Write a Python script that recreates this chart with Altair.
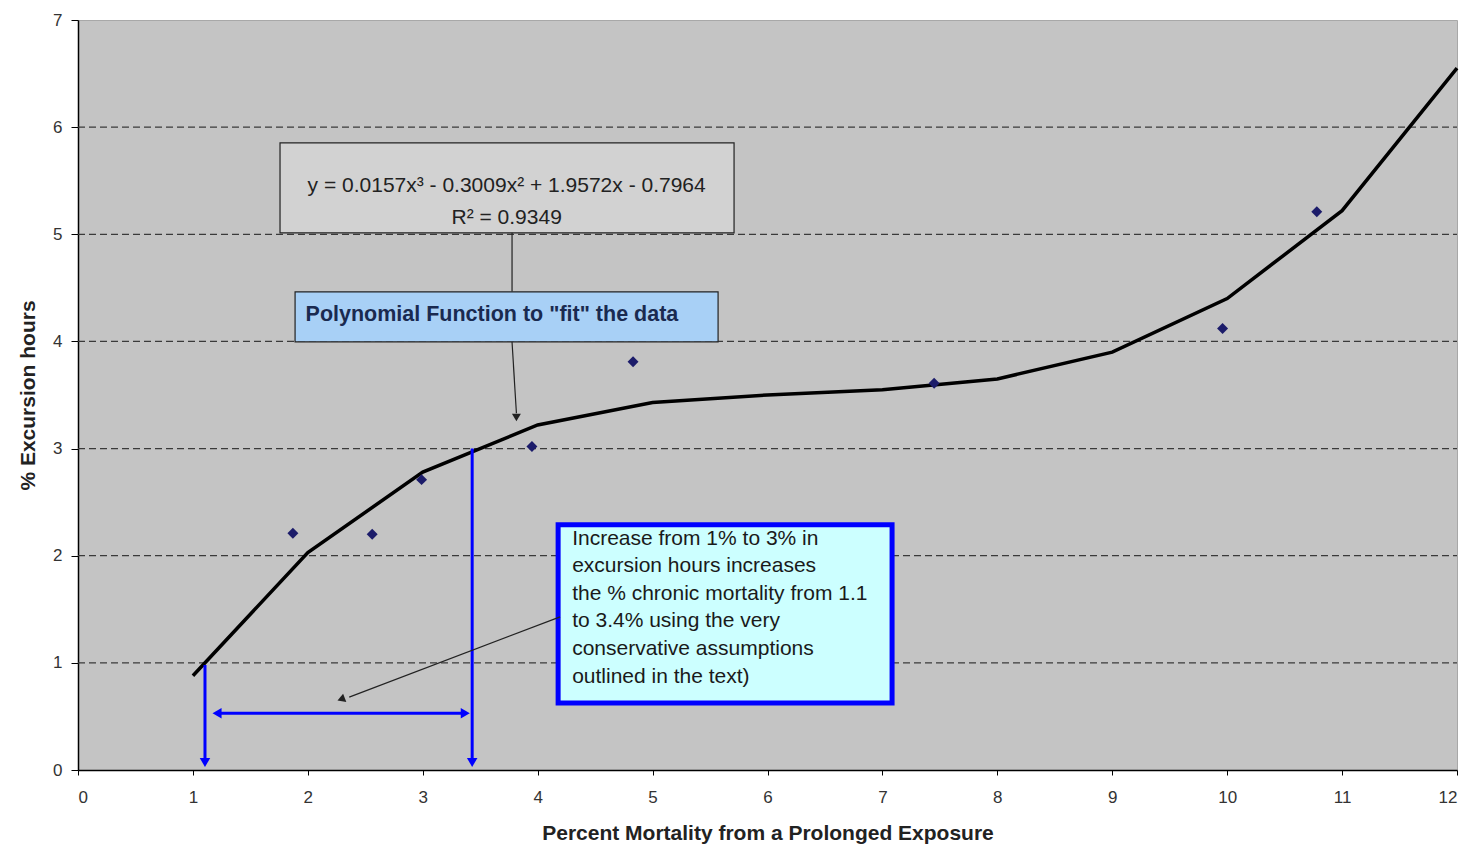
import altair as alt
import pandas as pd

pt_x = [1.87, 2.56, 2.99, 3.95, 4.83, 7.45, 9.96, 10.78]
pt_y = [2.21, 2.2, 2.71, 3.02, 3.81, 3.61, 4.12, 5.21]

# Fitted trend curve as drawn
fit_x = [1, 2, 3, 4, 5, 6, 7, 8, 9, 10, 11, 12]
fit_y = [0.88, 2.03, 2.78, 3.22, 3.43, 3.5, 3.55, 3.65, 3.9, 4.4, 5.22, 6.55]

grid_levels = [1, 2, 3, 4, 5, 6]
x_ticks = list(range(0, 13))
y_ticks = list(range(0, 8))

eq_lines = "y = 0.0157x\u00b3 - 0.3009x\u00b2 + 1.9572x - 0.7964\nR\u00b2 = 0.9349"
poly_label = "Polynomial Function to \"fit\" the data"
note_text = ("Increase from 1% to 3% in\nexcursion hours increases\n"
             "the % chronic mortality from 1.1\nto 3.4% using the very\n"
             "conservative assumptions\noutlined in the text)")

FONT = "Liberation Sans"
xs = alt.Scale(domain=[0, 12], nice=False)
ys = alt.Scale(domain=[0, 7], nice=False)

pts = pd.DataFrame({"x": pt_x, "y": pt_y})
fit = pd.DataFrame({"x": fit_x, "y": fit_y})
grid = pd.DataFrame({"y": grid_levels})

base_x = alt.X("x:Q", scale=xs,
               axis=alt.Axis(title="Percent Mortality from a Prolonged Exposure",
                             values=x_ticks, format="d", grid=False,
                             domainColor="black", domainWidth=1.5, tickColor="black",
                             tickSize=5, labelPadding=14, labelFontSize=17,
                             labelColor="#333333", labelFont=FONT,
                             titleFont=FONT, titleFontSize=21, titleFontWeight="bold",
                             titleColor="#222222", titlePadding=17))
base_y = alt.Y("y:Q", scale=ys,
               axis=alt.Axis(title="% Excursion hours", values=y_ticks, format="d",
                             grid=False, domainColor="black", domainWidth=1.5,
                             tickColor="black", tickSize=7, labelPadding=9,
                             labelFontSize=17, labelColor="#333333", labelFont=FONT,
                             titleFont=FONT, titleFontSize=21, titleFontWeight="bold",
                             titleColor="#222222", titlePadding=14))

gridlines = alt.Chart(grid).mark_rule(color="#3a3a3a", strokeDash=[7, 4], strokeWidth=1.3).encode(
    y=alt.Y("y:Q", scale=ys), x=alt.value(0), x2=alt.value(1379))

curve = alt.Chart(fit).mark_line(color="black", strokeWidth=3.5).encode(x=base_x, y=base_y)
dots = alt.Chart(pts).mark_point(shape="diamond", filled=True, size=120, color="#1c1c6a", opacity=1).encode(
    x=alt.X("x:Q", scale=xs), y=alt.Y("y:Q", scale=ys))

def rect(x1, x2, y1, y2, fill, stroke, sw):
    d = pd.DataFrame({"x": [x1], "x2": [x2], "y": [y1], "y2": [y2]})
    return alt.Chart(d).mark_rect(fill=fill, stroke=stroke, strokeWidth=sw).encode(
        x=alt.X("x:Q", scale=xs), x2="x2:Q", y=alt.Y("y:Q", scale=ys), y2="y2:Q")

def seg(x1, y1, x2, y2, color, sw):
    d = pd.DataFrame({"x": [x1], "x2": [x2], "y": [y1], "y2": [y2]})
    return alt.Chart(d).mark_rule(color=color, strokeWidth=sw).encode(
        x=alt.X("x:Q", scale=xs), x2="x2:Q", y=alt.Y("y:Q", scale=ys), y2="y2:Q")

def head(x, y, shape, angle, color, size):
    d = pd.DataFrame({"x": [x], "y": [y]})
    return alt.Chart(d).mark_point(shape=shape, angle=angle, filled=True, size=size,
                                   color=color, opacity=1).encode(
        x=alt.X("x:Q", scale=xs), y=alt.Y("y:Q", scale=ys))

def label(x, y, text, size, weight="normal", align="center", baseline="middle", color="#222222", lh=20):
    d = pd.DataFrame({"x": [x], "y": [y], "t": [text]})
    return alt.Chart(d).mark_text(font=FONT, fontSize=size, fontWeight=weight, align=align,
                                  baseline=baseline, color=color, lineBreak="\n",
                                  lineHeight=lh).encode(
        x=alt.X("x:Q", scale=xs), y=alt.Y("y:Q", scale=ys), text="t:N")

BLUE = "#0000ff"
layers = [
    gridlines,
    curve,
    dots,
    # blue guide lines
    seg(1.105, 0.98, 1.105, 0.08, BLUE, 3),
    head(1.105, 0.07, "triangle-down", 0, BLUE, 110),
    seg(3.43, 3.0, 3.43, 0.08, BLUE, 3),
    head(3.43, 0.07, "triangle-down", 0, BLUE, 110),
    seg(1.22, 0.53, 3.36, 0.53, BLUE, 3),
    head(1.21, 0.53, "triangle-left", 0, BLUE, 110),
    head(3.37, 0.53, "triangle-right", 0, BLUE, 110),
    # equation box
    rect(1.758, 5.709, 5.854, 5.014, "#d2d2d2", "#222222", 1.2),
    label(3.73, 5.45, eq_lines, 21, lh=32, baseline="middle"),
    seg(3.777, 5.014, 3.777, 4.463, "#222222", 1.2),
    # polynomial box
    rect(1.889, 5.570, 4.463, 3.996, "#a8d0f6", "#222222", 1.2),
    label(1.98, 4.25, poly_label, 21.5, weight="bold", align="left", color="#1a2a50"),
    seg(3.777, 3.996, 3.815, 3.33, "#222222", 1.2),
    head(3.815, 3.29, "triangle-down", 0, "#222222", 80),
    # note box
    rect(4.178, 7.084, 2.288, 0.626, "#ccffff", BLUE, 5),
    label(4.30, 2.262, note_text, 21, align="left", baseline="top", color="#1a1a1a", lh=27.6),
    seg(4.195, 1.429, 2.36, 0.68, "#222222", 1.2),
    head(2.30, 0.665, "triangle", 249, "#222222", 80),
]

chart = alt.layer(*layers).properties(
    width=1379, height=750, autosize="none",
    padding={"left": 70, "top": 12, "right": 6, "bottom": 77},
    background="white",
).configure_view(fill="#c4c4c4", stroke="#a8a8a8", strokeWidth=1)

chart.save("out.html", embed_options={"renderer": "svg", "actions": False})
